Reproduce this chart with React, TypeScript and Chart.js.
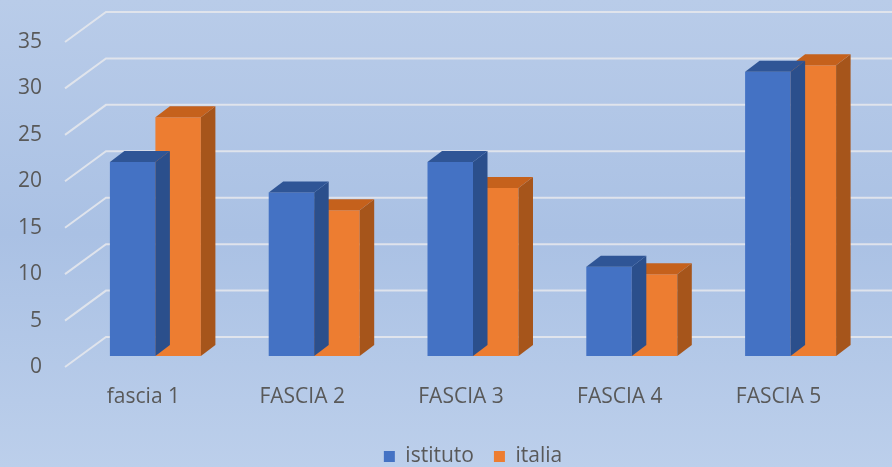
import React, { useEffect, useRef } from 'react';
import { Chart, registerables } from 'chart.js';

Chart.register(...registerables);

const categories = ['fascia 1', 'FASCIA 2', 'FASCIA 3', 'FASCIA 4', 'FASCIA 5'];
const seriesNames = ['istituto', 'italia'];
const istituto = [20.9, 17.6, 20.9, 9.6, 30.6];
const italia = [25.7, 15.7, 18.1, 8.8, 31.3];
const yMin = 0;
const yMax = 35;
const yStep = 5;

const frontColors = ['#4472c4', '#ed7d31'];
const topColors = ['#2f5596', '#c5611c'];
const sideColors = ['#2b4f8c', '#a6551b'];

const W = 892;
const H = 467;
const FONT = "'Open Sans', 'Noto Sans', sans-serif";
const TEXT = '#595959';

const depthPlugin = {
  id: 'depth3d',
  beforeDatasetsDraw(chart: any) {
    const { ctx, chartArea, scales } = chart;
    const ys = scales.y;
    ctx.save();
    ctx.strokeStyle = 'rgba(228,231,236,0.9)';
    ctx.lineWidth = 2;
    ys.ticks.forEach((t: any) => {
      const yb = ys.getPixelForValue(t.value);
      ctx.beginPath();
      ctx.moveTo(chartArea.left - 11, yb + 11);
      ctx.lineTo(chartArea.left + 30, yb - 19);
      ctx.lineTo(chart.width, yb - 19);
      ctx.stroke();
    });
    ctx.restore();
  },
  afterDatasetDraw(chart: any, args: any) {
    const { ctx } = chart;
    const i = args.index;
    const meta = args.meta;
    const dx = 14.5;
    const dy = 11;
    ctx.save();
    meta.data.forEach((el: any) => {
      const p = el.getProps(['x', 'y', 'base', 'width'], true);
      const l = p.x - p.width / 2;
      const r = p.x + p.width / 2;
      const t = Math.min(p.y, p.base);
      const b = Math.max(p.y, p.base);
      ctx.fillStyle = sideColors[i];
      ctx.beginPath();
      ctx.moveTo(r, t);
      ctx.lineTo(r + dx, t - dy);
      ctx.lineTo(r + dx, b - dy);
      ctx.lineTo(r, b);
      ctx.closePath();
      ctx.fill();
      ctx.fillStyle = topColors[i];
      ctx.beginPath();
      ctx.moveTo(l, t);
      ctx.lineTo(l + dx, t - dy);
      ctx.lineTo(r + dx, t - dy);
      ctx.lineTo(r, t);
      ctx.closePath();
      ctx.fill();
    });
    ctx.restore();
  },
};

export default function App() {
  const ref = useRef<HTMLCanvasElement>(null);
  useEffect(() => {
    if (!ref.current) return;
    const chart = new Chart(ref.current, {
      type: 'bar',
      data: {
        labels: categories,
        datasets: [
          { label: seriesNames[0], data: istituto, backgroundColor: frontColors[0], borderWidth: 0 },
          { label: seriesNames[1], data: italia, backgroundColor: frontColors[1], borderWidth: 0 },
        ],
      },
      options: {
        responsive: false,
        animation: false,
        layout: { padding: { left: 0, right: 22, top: 31, bottom: -10 } },
        datasets: { bar: { categoryPercentage: 0.573, barPercentage: 1 } },
        scales: {
          x: {
            grid: { display: false, drawTicks: false },
            border: { display: false },
            ticks: { color: TEXT, font: { family: FONT, size: 21 }, padding: 28, labelOffset: -12, maxRotation: 0 },
            afterFit: (s: any) => { s.height = 70; },
          },
          y: {
            min: yMin,
            max: yMax,
            grid: { display: false, drawTicks: false },
            border: { display: false },
            ticks: { stepSize: yStep, color: TEXT, font: { family: FONT, size: 21 }, padding: 34, labelOffset: 11 },
            afterFit: (s: any) => {
              s.width = 76;
              s.paddingTop = 0;
              s.paddingBottom = 0;
            },
          },
        },
        plugins: {
          legend: {
            position: 'bottom',
            fullSize: false,
            labels: { color: TEXT, font: { family: FONT, size: 21 }, boxWidth: 11, boxHeight: 11, padding: 20 },
          },
          tooltip: { enabled: false },
        },
      },
      plugins: [depthPlugin],
    } as any);
    return () => chart.destroy();
  }, []);
  return (
    <div
      style={{
        position: 'absolute',
        left: 0,
        top: 0,
        width: W,
        height: H,
        background: 'linear-gradient(180deg, #b9cce9 0%, #aac1e4 50%, #bccfeb 100%)',
      }}
    >
      <canvas ref={ref} width={W} height={H} style={{ display: 'block' }} />
    </div>
  );
}
